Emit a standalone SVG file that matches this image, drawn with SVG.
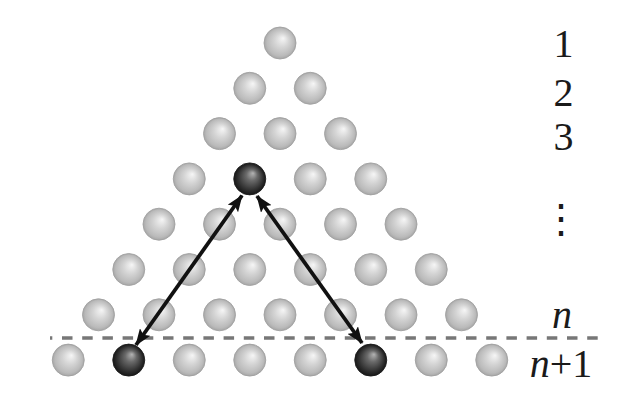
<svg xmlns="http://www.w3.org/2000/svg" width="631" height="403" viewBox="0 0 631 403">
<style>
.b{fill:url(#lg);stroke:#a2a2a2;stroke-width:0.9}
.d{fill:url(#dg);stroke:#1e1e1e;stroke-width:0.9}
.lbl{font-family:'Liberation Serif','Times New Roman',serif;font-size:40px;fill:#1a1a1a;text-anchor:middle}
.it{font-style:italic}
.arr{stroke:#111;stroke-width:3.8;fill:none;marker-start:url(#ah);marker-end:url(#ah)}
</style>
<defs>
<radialGradient id="lg" cx="0.5" cy="0.5" r="0.5" fx="0.6" fy="0.35">
<stop offset="0" stop-color="#f6f6f6"/>
<stop offset="0.45" stop-color="#d4d4d4"/>
<stop offset="0.85" stop-color="#bababa"/>
<stop offset="1" stop-color="#a6a6a6"/>
</radialGradient>
<radialGradient id="dg" cx="0.5" cy="0.5" r="0.5" fx="0.6" fy="0.32">
<stop offset="0" stop-color="#b4b4b4"/>
<stop offset="0.35" stop-color="#6a6a6a"/>
<stop offset="0.8" stop-color="#2e2e2e"/>
<stop offset="1" stop-color="#161616"/>
</radialGradient>
<marker id="ah" markerUnits="userSpaceOnUse" viewBox="0 0 17 13" refX="16" refY="6.5" markerWidth="17" markerHeight="13" orient="auto-start-reverse">
<path d="M0,0 L17,6.5 L0,13 L3.5,6.5 z" fill="#111"/>
</marker>
</defs>
<g id="balls">
<g id="r1c1"><circle class="b" cx="280" cy="43" r="16"/></g>
<g id="r2c1"><circle class="b" cx="249.75" cy="88.3" r="16"/></g>
<g id="r2c2"><circle class="b" cx="310.25" cy="88.3" r="16"/></g>
<g id="r3c1"><circle class="b" cx="219.5" cy="133.6" r="16"/></g>
<g id="r3c2"><circle class="b" cx="280" cy="133.6" r="16"/></g>
<g id="r3c3"><circle class="b" cx="340.5" cy="133.6" r="16"/></g>
<g id="r4c1"><circle class="b" cx="189.25" cy="178.9" r="16"/></g>
<g id="r4c2"><circle class="d" cx="249.75" cy="178.9" r="16"/></g>
<g id="r4c3"><circle class="b" cx="310.25" cy="178.9" r="16"/></g>
<g id="r4c4"><circle class="b" cx="370.75" cy="178.9" r="16"/></g>
<g id="r5c1"><circle class="b" cx="159" cy="224.2" r="16"/></g>
<g id="r5c2"><circle class="b" cx="219.5" cy="224.2" r="16"/></g>
<g id="r5c3"><circle class="b" cx="280" cy="224.2" r="16"/></g>
<g id="r5c4"><circle class="b" cx="340.5" cy="224.2" r="16"/></g>
<g id="r5c5"><circle class="b" cx="401" cy="224.2" r="16"/></g>
<g id="r6c1"><circle class="b" cx="128.75" cy="269.5" r="16"/></g>
<g id="r6c2"><circle class="b" cx="189.25" cy="269.5" r="16"/></g>
<g id="r6c3"><circle class="b" cx="249.75" cy="269.5" r="16"/></g>
<g id="r6c4"><circle class="b" cx="310.25" cy="269.5" r="16"/></g>
<g id="r6c5"><circle class="b" cx="370.75" cy="269.5" r="16"/></g>
<g id="r6c6"><circle class="b" cx="431.25" cy="269.5" r="16"/></g>
<g id="r7c1"><circle class="b" cx="98.5" cy="314.8" r="16"/></g>
<g id="r7c2"><circle class="b" cx="159" cy="314.8" r="16"/></g>
<g id="r7c3"><circle class="b" cx="219.5" cy="314.8" r="16"/></g>
<g id="r7c4"><circle class="b" cx="280" cy="314.8" r="16"/></g>
<g id="r7c5"><circle class="b" cx="340.5" cy="314.8" r="16"/></g>
<g id="r7c6"><circle class="b" cx="401" cy="314.8" r="16"/></g>
<g id="r7c7"><circle class="b" cx="461.5" cy="314.8" r="16"/></g>
<g id="r8c1"><circle class="b" cx="68.25" cy="360.1" r="16"/></g>
<g id="r8c2"><circle class="d" cx="128.75" cy="360.1" r="16"/></g>
<g id="r8c3"><circle class="b" cx="189.25" cy="360.1" r="16"/></g>
<g id="r8c4"><circle class="b" cx="249.75" cy="360.1" r="16"/></g>
<g id="r8c5"><circle class="b" cx="310.25" cy="360.1" r="16"/></g>
<g id="r8c6"><circle class="d" cx="370.75" cy="360.1" r="16"/></g>
<g id="r8c7"><circle class="b" cx="431.25" cy="360.1" r="16"/></g>
<g id="r8c8"><circle class="b" cx="491.75" cy="360.1" r="16"/></g>
</g>
<g id="divider">
<line x1="50" y1="338" x2="598" y2="338" stroke="#777" stroke-width="3.4" stroke-dasharray="10.5 9.7" stroke-dashoffset="8.2"/>
</g>
<g id="connectors">
<line class="arr" x1="136" y1="345" x2="242" y2="195.5"/>
<line class="arr" x1="257" y1="196" x2="362" y2="343"/>
</g>
<g id="labels">
<text class="lbl" x="563.5" y="57">1</text>
<text class="lbl" x="563.5" y="106">2</text>
<text class="lbl" x="563.5" y="150">3</text>
<text x="561" y="232" font-family="DejaVu Serif, serif" font-size="40" fill="#1a1a1a" text-anchor="middle">⋮</text>
<text class="lbl it" x="562" y="328">n</text>
<text class="lbl" x="561" y="377"><tspan class="it">n</tspan>+1</text>
</g>
</svg>
